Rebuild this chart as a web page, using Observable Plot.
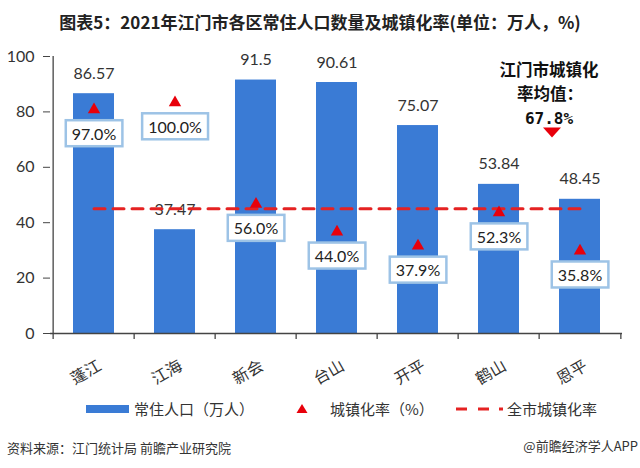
<!DOCTYPE html>
<html>
<head>
<meta charset="utf-8">
<script src="https://cdn.jsdelivr.net/npm/d3@7"></script>
<script src="https://cdn.jsdelivr.net/npm/@observablehq/plot@0.6"></script>
<style>
  body { margin: 0; background: #fff; font-family: "Noto Sans CJK SC", sans-serif; }
  #wrap { position: relative; width: 640px; height: 468px; overflow: hidden; background: #fff; }
  #title { position: absolute; top: 0; left: 0; width: 640px; height: 40px; line-height: 44px; text-align: center; font-weight: bold; font-size: 17px; color: #222; white-space: nowrap; }
  #chart { position: absolute; top: 40px; left: 0; }
  .leg { position: absolute; top: 397px; height: 24px; line-height: 24px; font-size: 15px; color: #333; white-space: nowrap; }
  .leg svg { position: absolute; top: 0; left: 0; }
  #source { position: absolute; top: 438px; left: 7px; font-size: 13px; color: #333; white-space: nowrap; }
  #credit { position: absolute; top: 436px; right: 2px; font-size: 13px; color: #333; white-space: nowrap; }
</style>
</head>
<body>
<div id="wrap">
  <div id="title">图表5：2021年江门市各区常住人口数量及城镇化率(单位：万人，%)</div>
  <div id="chart"></div>
  <div class="leg" style="left:86px;width:180px;">
    <svg width="46" height="24"><rect x="0" y="8" width="43" height="8" fill="#3a7bd5"></rect></svg>
    <span style="position:absolute;left:48px;">常住人口（万人）</span>
  </div>
  <div class="leg" style="left:296px;width:150px;">
    <svg width="14" height="24"><path d="M6,7 L11.5,16 L0.5,16 Z" fill="#e8000b"></path></svg>
    <span style="position:absolute;left:34px;">城镇化率（%）</span>
  </div>
  <div class="leg" style="left:456px;width:160px;">
    <svg width="52" height="24"><line x1="0" y1="12" x2="48" y2="12" stroke="#e52222" stroke-width="3" stroke-dasharray="11,11,11,10,4,100"></line></svg>
    <span style="position:absolute;left:51px;">全市城镇化率</span>
  </div>
  <div id="source">资料来源：江门统计局 前瞻产业研究院</div>
  <div id="credit">@前瞻经济学人APP</div>
</div>
<script>
// ---- data ----
const districts = ["蓬江", "江海", "新会", "台山", "开平", "鹤山", "恩平"];
const population = [86.57, 37.47, 91.5, 90.61, 75.07, 53.84, 48.45];   // 万人
const urbanRate = [97.0, 100.0, 56.0, 44.0, 37.9, 52.3, 35.8];        // %
const cityAvgRate = 67.8;          // 江门市城镇化率均值
const avgLineLevel = 45;           // dashed line level as read on the left axis
const rateAxisMax = 120;           // hidden secondary axis for the rates (0–120)
const yTicks = [0, 20, 40, 60, 80, 100];
const annoLines = ["江门市城镇化", "率均值："];

const data = districts.map((d, i) => ({district: d, pop: population[i], rate: urbanRate[i]}));
const rateToLeft = v => v * 100 / rateAxisMax;

const W = 640, H = 350, ML = 50, MR = 18, MT = 16, MB = 57;
const step = (W - ML - MR) / districts.length;
const BLUE = "#3a7bd5", RED = "#e8000b", AXIS = "#444";
const last = districts[districts.length - 1];
const yTop = yTicks[yTicks.length - 1];

// flat downward triangle symbol
const downTriangle = {
  draw(ctx, size) {
    const r = Math.sqrt(size / Math.PI);
    ctx.moveTo(-r, -0.55 * r);
    ctx.lineTo(r, -0.55 * r);
    ctx.lineTo(0, 0.55 * r);
    ctx.closePath();
  }
};

const annoFont = "'Noto Sans CJK SC', sans-serif";

const plot = Plot.plot({
  width: W, height: H,
  marginLeft: ML, marginRight: MR, marginTop: MT, marginBottom: MB,
  style: {fontFamily: "Lato, 'Noto Sans CJK SC', sans-serif", fontSize: "16px", color: "#333", background: "transparent", overflow: "visible"},
  x: {domain: districts, paddingInner: 0.5, paddingOuter: 0.25, label: null},
  y: {domain: [0, 100], label: null},
  marks: [
    Plot.barY(data, {x: "district", y: "pop", fill: BLUE}),
    Plot.text(data, {x: "district", y: "pop", text: d => String(d.pop), dy: -20, fontSize: 16, fill: "#333"}),
    // axes
    Plot.ruleY([0], {stroke: AXIS, strokeWidth: 1.3}),
    Plot.ruleX([districts[0]], {x: d => d, y1: 0, y2: yTop, dx: -step / 2, stroke: AXIS, strokeWidth: 1.3}),
    Plot.ruleX(districts, {x: d => d, y1: 0, y2: 0, dx: -step / 2, insetBottom: -6, stroke: AXIS, strokeWidth: 1.3}),
    Plot.ruleX([last], {x: d => d, y1: 0, y2: 0, dx: step / 2, insetBottom: -6, stroke: AXIS, strokeWidth: 1.3}),
    Plot.axisY({ticks: yTicks, tickSize: 7, tickPadding: 9, fontSize: 16, label: null, stroke: AXIS, fill: "#333"}),
    Plot.axisX({tickSize: 0, tickRotate: -30, tickPadding: 31, dx: 6, fontSize: 16, label: null, fill: "#333", fontFamily: annoFont}),
    // city average dashed line
    Plot.lineY([districts[0], last], {x: d => d, y: () => avgLineLevel, stroke: "#e52222", strokeWidth: 3, strokeDasharray: "11,8"}),
    // urbanisation rate markers
    Plot.dot(data, {x: "district", y: d => rateToLeft(d.rate), symbol: "triangle", r: 4.6, fill: RED, stroke: "none"}),
    Plot.text(data, {x: "district", y: d => rateToLeft(d.rate), dy: 25, text: d => d.rate.toFixed(1) + "%", fontSize: 16, fill: "#222"}),
    // annotation (offset from the top of the plot area, left of the last bar)
    Plot.text([annoLines[0]], {x: () => last, y: () => yTop, dx: -31, dy: 14, text: d => d, fontSize: 16.5, fontWeight: "bold", fill: "#111", fontFamily: annoFont}),
    Plot.text([annoLines[1]], {x: () => last, y: () => yTop, dx: -30, dy: 38, text: d => d, fontSize: 16.5, fontWeight: "bold", fill: "#111", fontFamily: annoFont}),
    Plot.text([cityAvgRate], {x: () => last, y: () => yTop, dx: -31, dy: 62, text: d => d.toFixed(1) + "%", fontSize: 16, fontWeight: "bold", fill: "#111", fontFamily: "'DejaVu Sans Mono', monospace"}),
    Plot.dot([cityAvgRate], {x: () => last, y: () => yTop, dx: -28, dy: 76, symbol: downTriangle, r: 9, fill: RED, stroke: "none"})
  ]
});

document.getElementById("chart").append(plot);

// boxes behind the rate labels
const NS = "http://www.w3.org/2000/svg";
const rateLabels = new Set(urbanRate.map(v => v.toFixed(1) + "%"));
Array.from(plot.querySelectorAll("text"))
  .filter(t => rateLabels.has(t.textContent.trim()))
  .forEach(t => {
    const b = t.getBBox();
    const r = document.createElementNS(NS, "rect");
    r.setAttribute("x", b.x - 6);
    r.setAttribute("y", b.y - 3.5);
    r.setAttribute("width", b.width + 12);
    r.setAttribute("height", b.height + 7);
    r.setAttribute("fill", "#fff");
    r.setAttribute("stroke", "#9dc3e6");
    r.setAttribute("stroke-width", 2.5);
    const tr = t.getAttribute("transform");
    if (tr) r.setAttribute("transform", tr);
    t.parentNode.insertBefore(r, t);
  });
</script>
</body>
</html>
